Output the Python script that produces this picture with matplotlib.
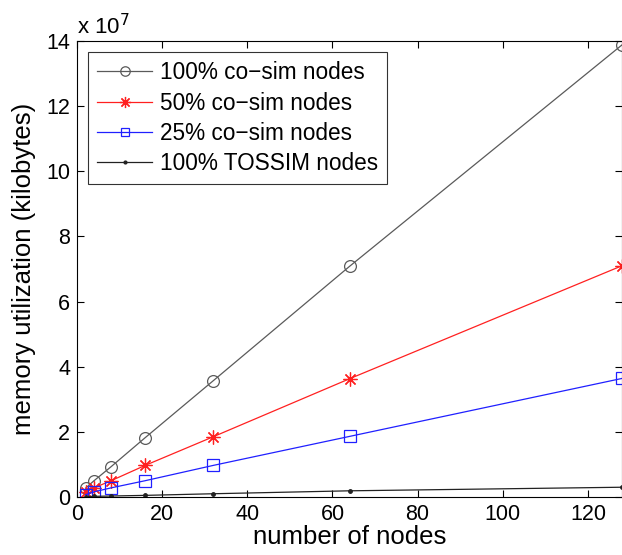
import matplotlib
matplotlib.use('Agg')
import matplotlib.pyplot as plt

plt.rcParams['font.family'] = ['Liberation Sans', 'DejaVu Sans']

# data (memory in units of 1e7 kilobytes)
nodes = [2, 4, 8, 16, 32, 64, 128]
cosim_100 = [0.27, 0.50, 0.93, 1.82, 3.57, 7.08, 13.88]
cosim_50 = [0.15, 0.28, 0.50, 0.97, 1.85, 3.63, 7.10]
cosim_25 = [0.07, 0.16, 0.28, 0.50, 0.97, 1.86, 3.64]
tossim_100 = [0.01, 0.02, 0.03, 0.05, 0.10, 0.19, 0.30]

fig = plt.figure(figsize=(6.22, 5.55), dpi=100)
ax = fig.add_axes([77 / 622, 58 / 555, 545 / 622, 456 / 555])

ax.plot(nodes, cosim_100, '-', color='#5a5a5a', lw=0.9, marker='o', ms=8.5,
        mfc='none', mec='#5a5a5a', mew=0.9, label='100% co\u2212sim nodes')
ax.plot(nodes, cosim_50, '-', color='#ff2020', lw=0.9, marker=(8, 2, 0), ms=10,
        mfc='none', mec='#ff2020', mew=0.9, label='50% co\u2212sim nodes')
ax.plot(nodes, cosim_25, '-', color='#2020ff', lw=0.9, marker='s', ms=8,
        mfc='none', mec='#2020ff', mew=0.9, label='25% co\u2212sim nodes')
ax.plot(nodes, tossim_100, '-', color='#222222', lw=0.9, marker='.', ms=5,
        label='100% TOSSIM nodes')

ax.set_xlim(0, 128)
ax.set_ylim(0, 14)
ax.set_xticks([0, 20, 40, 60, 80, 100, 120])
ax.set_yticks([0, 2, 4, 6, 8, 10, 12, 14])
ax.tick_params(direction='in', top=True, right=True, labelsize=15.5, length=5,
               width=0.8, pad=5)
for s in ax.spines.values():
    s.set_linewidth(0.8)

ax.set_xlabel('number of nodes', fontsize=18.5, labelpad=0)
ax.set_ylabel('memory utilization (kilobytes)', fontsize=18.5, labelpad=7)
ax.text(0.0, 1.005, r'x 10$^7$', transform=ax.transAxes, fontsize=16,
        ha='left', va='bottom')

leg = ax.legend(loc='upper left', fontsize=16.3, frameon=True, fancybox=False,
                edgecolor='black', handlelength=2.4, borderaxespad=0.5,
                labelspacing=0.32, handletextpad=0.35, borderpad=0.4,
                markerscale=0.8)
leg.get_frame().set_linewidth(0.8)

fig.savefig('out.png', dpi=100, facecolor='white')
